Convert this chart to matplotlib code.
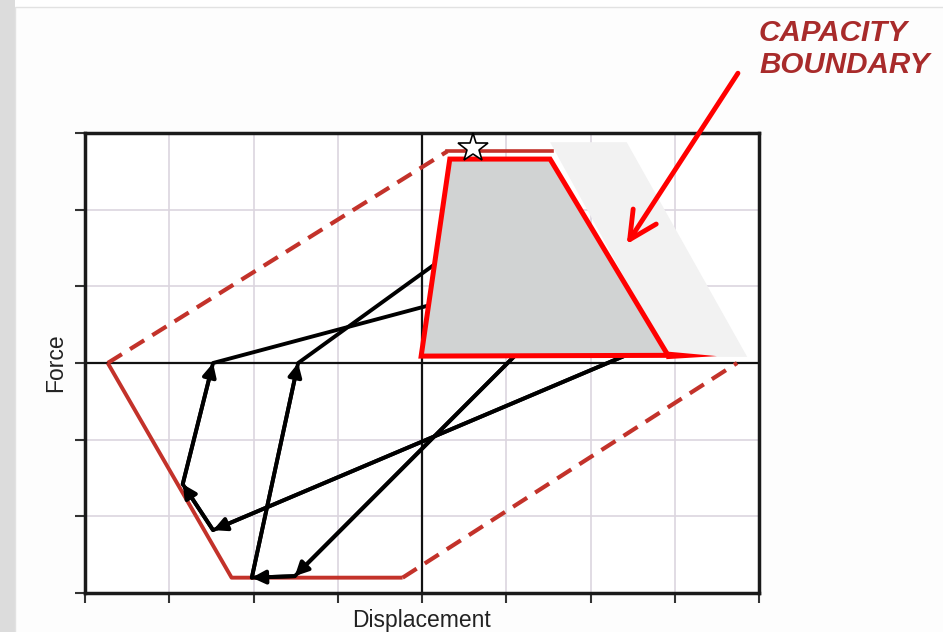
import numpy as np
import matplotlib
matplotlib.use('Agg')
import matplotlib.pyplot as plt
from matplotlib.patches import Polygon, Rectangle

plt.rcParams['font.family'] = ['Liberation Sans', 'DejaVu Sans']

# grid ticks (no labels on the original)
x_ticks = [-4, -3, -2, -1, 0, 1, 2, 3, 4]
y_ticks = [-3, -2, -1, 0, 1, 2, 3]

# capacity boundary (dark red)
boundary_x = [-3.73, -2.26, -0.23]
boundary_y = [0.0, -2.80, -2.80]
upper_dash_x = [-3.73, 0.30]
upper_dash_y = [0.0, 2.76]
lower_dash_x = [-0.23, 3.74]
lower_dash_y = [-2.80, 0.0]
top_x = [0.30, 1.54]
top_y = [2.76, 2.76]

# highlighted capacity region + its shadow
capacity_x = [-0.01, 0.33, 1.52, 2.92]
capacity_y = [0.09, 2.66, 2.66, 0.10]
shadow_x = [1.52, 2.43, 3.86, 2.92]
shadow_y = [2.88, 2.88, 0.08, 0.08]
taper_x = [2.90, 3.50, 2.90]
taper_y = [0.15, 0.09, 0.05]

# hysteresis paths (start/end points are behind the grey region)
path1_x = [2.59, -2.48, -2.84, -2.48, 0.93]
path1_y = [0.18, -2.18, -1.58, 0.0, 1.00]
path2_x = [1.28, -1.51, -2.02, -1.47, 0.57]
path2_y = [0.29, -2.78, -2.80, 0.0, 1.62]

star_x, star_y = 0.61, 2.80

fig = plt.figure(figsize=(9.43, 6.32), dpi=100)
fig.patch.set_facecolor('white')
fig.patches.append(Rectangle((0, 0), 15 / 943, 1, transform=fig.transFigure,
                             facecolor='#dcdcdc', edgecolor='none', zorder=-5))
fig.patches.append(Rectangle((15 / 943, -0.01), 1, 1 - 7 / 632 + 0.01, transform=fig.transFigure,
                             facecolor='#fdfdfd', edgecolor='#e2e2e2', lw=1, zorder=-4))

ax = fig.add_axes([85 / 943, 39 / 632, 674 / 943, 460 / 632])
ax.set_facecolor('white')
ax.set_xlim(-4, 4)
ax.set_ylim(-3, 3)
ax.set_xticks(x_ticks)
ax.set_yticks(y_ticks)
ax.tick_params(labelbottom=False, labelleft=False, direction='out', length=7, width=1.5, color='#333333')
ax.grid(True, color='#dbd5df', lw=1.2, zorder=0)
ax.set_axisbelow(True)
for s in ax.spines.values():
    s.set_linewidth(2.5)
    s.set_color('#1a1a1a')
ax.axhline(0, color='#111111', lw=1.6, zorder=1)
ax.axvline(0, color='#111111', lw=1.6, zorder=1)

red_dark = '#c3322a'
ax.plot(boundary_x, boundary_y, color=red_dark, lw=2.8, zorder=2, solid_capstyle='butt')
ax.plot(upper_dash_x, upper_dash_y, color=red_dark, lw=3, dashes=(4, 2.3), zorder=2)
ax.plot(lower_dash_x, lower_dash_y, color=red_dark, lw=3, dashes=(4, 2.3), zorder=2)

# black load paths with arrow heads
for px, py in [(path1_x, path1_y), (path2_x, path2_y)]:
    ax.plot(px, py, color='black', lw=2.8, zorder=3, solid_capstyle='round')
    for i in range(len(px) - 2):
        ax.annotate('', xy=(px[i + 1], py[i + 1]), xytext=(px[i], py[i]),
                    arrowprops=dict(arrowstyle='-|>', color='black', lw=2.8,
                                    mutation_scale=20, shrinkA=0, shrinkB=0),
                    zorder=3)

ax.add_patch(Polygon(np.column_stack([shadow_x, shadow_y]), closed=True,
                     facecolor='#f2f2f2', edgecolor='none', zorder=4))
ax.add_patch(Polygon(np.column_stack([capacity_x, capacity_y]), closed=True,
                     facecolor='#d1d3d3', edgecolor='#ff0000', lw=3.6, zorder=5,
                     joinstyle='miter'))
ax.add_patch(Polygon(np.column_stack([taper_x, taper_y]), closed=True,
                     facecolor='#ff0000', edgecolor='none', zorder=5))
ax.plot(top_x, top_y, color=red_dark, lw=2.6, zorder=6)
ax.plot([star_x], [star_y], marker='*', ms=22, mfc='white', mec='black', mew=1.2,
        zorder=7, clip_on=False)

ax.set_xlabel('Displacement', fontsize=16.5, color='#222222')
ax.set_ylabel('Force', fontsize=16.5, color='#222222')
ax.xaxis.set_label_coords(0.5, -0.035)
ax.yaxis.set_label_coords(-0.026, 0.5)

# callout
ax.annotate('', xy=(2.43, 1.55), xytext=(3.75, 3.78),
            arrowprops=dict(arrowstyle='->, head_length=0.9, head_width=0.45', color='#ff0000',
                            lw=3.5, mutation_scale=22, shrinkA=0, shrinkB=0),
            annotation_clip=False, zorder=8)
fig.text(759 / 943, 1 - 19 / 632, 'CAPACITY\nBOUNDARY', color='#a82b2b', fontsize=21.3,
         fontweight='bold', fontstyle='italic', ha='left', va='top', linespacing=1.17)

fig.savefig('out.png', dpi=100)
